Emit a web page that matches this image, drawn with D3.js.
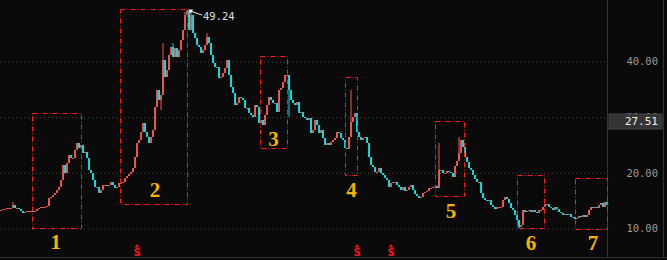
<!DOCTYPE html>
<html><head><meta charset="utf-8">
<script src="https://cdn.jsdelivr.net/npm/d3@7"></script>
<style>html,body{margin:0;padding:0;background:#0a0a0a;} svg{display:block}</style>
</head><body><svg id="c" width="667" height="260"></svg>
<script>
// ---------- DATA ----------
const closes = [
13.23,13.41,13.41,13.59,13.59,13.59,14.13,13.59,13.59,13.41,
13.05,12.69,12.87,13.05,13.05,13.05,12.87,13.05,13.41,13.59,
13.77,13.77,13.77,13.95,15.39,15.57,15.93,16.29,16.83,17.36,
18.62,21.32,19.88,21.68,23.11,22.57,22.57,24.01,25.27,24.37,
24.91,23.47,23.65,22.57,20.42,19.88,18.62,17.36,17.36,16.29,
16.83,17.72,17.72,17.54,17.72,18.26,17.72,17.18,17.36,18.08,
18.08,18.26,18.98,19.34,19.70,20.06,20.78,22.75,25.27,25.81,
27.24,28.86,27.24,26.35,25.27,26.35,27.60,31.73,34.79,32.99,
33.89,40.18,37.12,38.38,41.08,42.51,40.72,42.33,40.72,41.97,
43.77,45.57,48.26,49.00,45.57,48.26,45.03,44.13,42.87,42.51,
41.44,41.97,42.87,44.31,43.23,41.08,39.64,38.92,38.92,36.94,
37.12,37.84,38.74,40.18,37.48,35.33,34.25,32.09,32.45,33.53,
33.35,32.99,31.56,31.56,30.66,30.30,29.94,32.09,31.73,28.86,
29.40,28.50,30.30,32.09,33.53,32.99,32.45,32.45,30.84,34.79,
35.15,36.23,37.48,37.48,34.79,32.99,32.45,32.09,32.63,30.66,
30.84,29.94,29.76,29.40,29.76,27.06,27.60,29.40,28.50,27.06,
27.60,26.17,24.91,25.27,24.91,25.45,25.81,26.17,27.24,27.06,
26.17,25.81,24.37,24.19,26.35,29.04,29.94,30.66,27.24,26.35,
25.81,26.17,26.35,25.27,22.75,21.32,20.96,20.06,20.06,20.78,
19.88,19.52,18.98,18.62,17.36,18.08,18.26,18.26,17.72,17.36,
16.83,17.36,16.65,16.83,17.36,17.72,16.83,16.11,15.75,15.39,
15.57,16.29,16.47,16.65,17.18,17.18,17.36,17.54,17.18,20.42,
20.42,19.88,19.88,20.24,20.06,19.88,19.16,21.14,22.04,23.47,
25.81,24.55,22.75,21.86,20.78,20.42,19.52,18.80,18.26,18.26,
16.29,15.39,15.03,14.85,15.03,14.13,13.77,13.41,13.77,13.77,
13.77,15.03,15.57,15.21,14.49,13.59,13.23,12.34,11.44,10.18,
10.54,13.23,12.87,13.05,13.23,12.87,13.23,12.87,12.69,13.23,
13.23,13.77,14.31,14.31,13.77,13.59,13.23,13.77,13.41,12.87,
12.69,12.34,12.51,12.34,12.51,11.98,11.98,11.62,11.80,12.16,
11.98,12.34,11.98,12.34,13.23,13.77,13.59,13.77,13.59,14.13,
14.49,13.77,14.67,14.13
];
const highIdx = [6, 81, 86, 92, 93, 95, 103, 175, 219, 229];
const highVal = [14.67, 43.2, 43.2, 48.8, 49.24, 48.8, 45.0, 34.79, 25.27, 26.3];
const lowIdx = [80, 144, 259];
const lowVal = [31.2, 30.0, 9.9];

const yTicks = [10, 20, 30, 40];
const yTickLabels = ["10.00", "20.00", "30.00", "40.00"];
const cursorValue = "27.51";
const cursorPrice = 27.51;

// boxes: [startIndex, endIndex, topPrice, bottomPrice]
const boxStart = [16, 59.75, 130, 172.5, 217.5, 258.5, 287.5];
const boxEnd   = [40.5, 93.25, 143.5, 178.5, 232, 272, 303.25];
const boxTop   = [30.66, 49.26, 40.90, 37.12, 29.31, 19.52, 18.98];
const boxBot   = [10.0, 14.31, 24.37, 19.52, 15.75, 10.0, 9.82];
const boxLabels = ["1", "2", "3", "4", "5", "6", "7"];
const labelIdx   = [27.85, 77.5, 136.75, 175.75, 225.5, 265.5, 296.5];
const labelPrice = [6.23, 15.57, 24.73, 15.57, 11.80, 6.05, 6.05];

const sIdx = [68, 178, 195];

// ---------- CHART ----------
const W = 667, H = 260;
const svg = d3.select("#c");
svg.append("rect").attr("width", W).attr("height", H).attr("fill", "#0a0a0a");

const x = d3.scaleLinear().domain([0, closes.length - 1]).range([0, 606]);
const y = d3.scaleLinear().domain([10, 40]).range([228, 61]);

// gridlines
const grid = svg.append("g")
  .call(d3.axisRight(y).tickValues(yTicks).tickSize(607).tickFormat(""));
grid.select(".domain").remove();
grid.selectAll("line").attr("stroke", "#4a4a4a").attr("stroke-dasharray", "1,3")
  .attr("transform", "translate(0,0.5)");

// right axis labels
const ax = svg.append("g").attr("transform", "translate(658,0)")
  .call(d3.axisLeft(y).tickValues(yTicks).tickSize(0).tickPadding(0)
        .tickFormat((d, i) => yTickLabels[i]));
ax.select(".domain").remove();
ax.selectAll("text").attr("fill", "#9a9a9a").attr("font-family", "DejaVu Sans Mono")
  .attr("font-size", "10.5px").attr("dy", "0.35em");

// frame
svg.append("line").attr("x1", 607.5).attr("x2", 607.5).attr("y1", 0).attr("y2", 258).attr("stroke", "#333");
svg.append("line").attr("x1", 663.5).attr("x2", 663.5).attr("y1", 0).attr("y2", 258).attr("stroke", "#333");
svg.append("line").attr("x1", 0).attr("x2", W).attr("y1", 257.5).attr("y2", 257.5).attr("stroke", "#2c2c2c");

// candles
const hiMap = new Map(highIdx.map((d, i) => [d, highVal[i]]));
const loMap = new Map(lowIdx.map((d, i) => [d, lowVal[i]]));
const candles = closes.map((c, i) => {
  const o = i > 0 ? closes[i - 1] : c;
  let h = Math.max(o, c), l = Math.min(o, c);
  if (hiMap.has(i)) h = Math.max(h, hiMap.get(i));
  if (loMap.has(i)) l = Math.min(l, loMap.get(i));
  return {i, o, c, h, l, up: c >= o};
});
const UP = "#f25656", DN = "#00e4e6";
const cg = svg.append("g");
cg.selectAll("line.w").data(candles).join("line").attr("class", "w")
  .attr("x1", d => x(d.i) + 1).attr("x2", d => x(d.i) + 1)
  .attr("y1", d => y(d.h)).attr("y2", d => y(d.l))
  .attr("stroke", d => d.up ? UP : DN).attr("stroke-width", 1);
cg.selectAll("rect").data(candles).join("rect")
  .attr("x", d => x(d.i) + 0.1).attr("width", 1.9)
  .attr("y", d => y(Math.max(d.o, d.c)))
  .attr("height", d => Math.max(1, Math.abs(y(d.o) - y(d.c))))
  .attr("fill", d => d.up ? UP : DN);

// dashed boxes
svg.append("g").selectAll("rect").data(boxStart).join("rect")
  .attr("x", (d, i) => Math.round(x(d)) + 0.5)
  .attr("y", (d, i) => Math.round(y(boxTop[i])) + 0.5)
  .attr("width", (d, i) => Math.round(x(boxEnd[i]) - x(d)))
  .attr("height", (d, i) => Math.round(y(boxBot[i]) - y(boxTop[i])))
  .attr("fill", "none").attr("stroke", "#ff1c1c").attr("stroke-width", 1)
  .attr("stroke-dasharray", "5,2,1,2");

// box numbers
svg.append("g").selectAll("text").data(boxLabels).join("text")
  .attr("x", (d, i) => x(labelIdx[i])).attr("y", (d, i) => y(labelPrice[i]))
  .attr("text-anchor", "middle").attr("font-family", "Liberation Serif")
  .attr("font-weight", "bold").attr("font-size", "21px").attr("fill", "#f5b400")
  .text(d => d);

// S markers
const sg = svg.append("g").selectAll("g").data(sIdx).join("g")
  .attr("transform", d => `translate(${x(d) + 1},0)`);
sg.append("path").attr("d", "M-2.5,247.5 L0,244 L2.5,247.5 Z").attr("fill", "#ff1010");
sg.append("text").attr("y", 256).attr("text-anchor", "middle")
  .attr("font-family", "DejaVu Sans").attr("font-weight", "bold").attr("font-size", "10px")
  .attr("fill", "#ff1010").text("S");

// peak annotation
const maxH = d3.max(candles, d => d.h);
const peak = candles.find(d => d.h === maxH);
const px = x(peak.i) + 1, py = y(peak.h);
svg.append("line").attr("x1", px + 2).attr("y1", py + 1).attr("x2", px + 15).attr("y2", py + 5.5)
  .attr("stroke", "#e8e8e8").attr("stroke-width", 1);
svg.append("path").attr("d", `M${px + 1},${py} L${px + 6},${py} L${px + 4},${py + 4} Z`).attr("fill", "#e8e8e8");
svg.append("text").attr("x", px + 16).attr("y", py + 10)
  .attr("font-family", "DejaVu Sans Mono").attr("font-size", "10.5px").attr("fill", "#e0e0e0")
  .text(d3.format(".2f")(maxH));

// cursor value box (covers the 30.00 label, as in the reference)
const cy = y(cursorPrice) - 16.5;
svg.append("rect").attr("x", 609).attr("y", cy).attr("width", 53).attr("height", 15)
  .attr("fill", "#343434").attr("stroke", "#444");
svg.append("text").attr("x", 658).attr("y", cy + 7.5).attr("dy", "0.35em")
  .attr("text-anchor", "end").attr("font-family", "DejaVu Sans Mono").attr("font-size", "11px")
  .attr("fill", "#f0f0f0").text(cursorValue);
</script>
</body></html>
